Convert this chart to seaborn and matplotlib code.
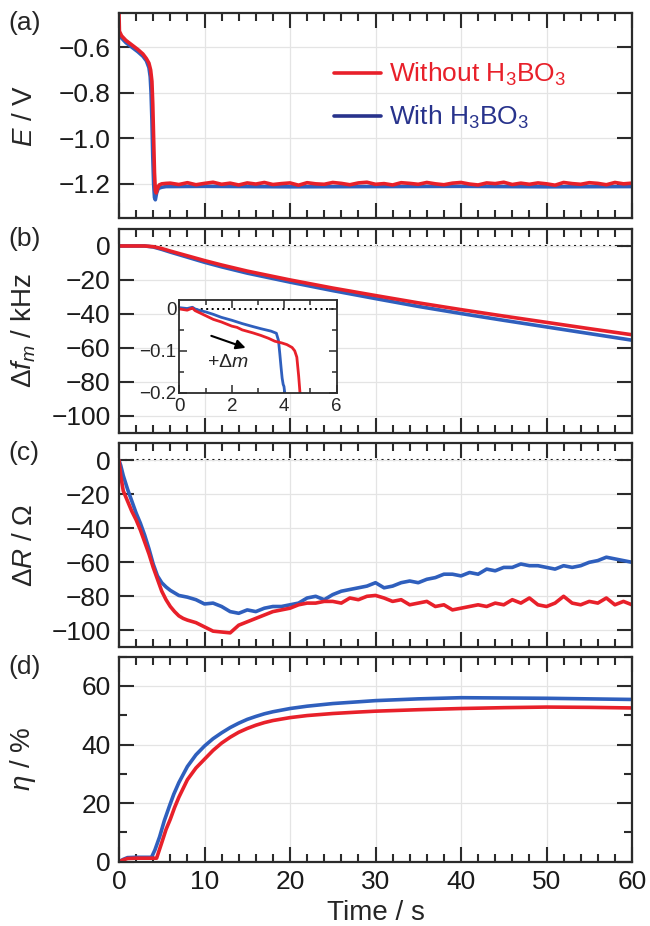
"""
Four stacked time-trace panels (E, delta f_m, delta R, eta) with and without H3BO3.
"""
import matplotlib
matplotlib.use("Agg")
import matplotlib.pyplot as plt
import matplotlib.ticker as mticker
from matplotlib.lines import Line2D
import seaborn as sns

sns.set_theme(style="ticks")
plt.rcParams["font.family"] = ["Liberation Sans", "DejaVu Sans"]
plt.rcParams["mathtext.fontset"] = "custom"
plt.rcParams["mathtext.rm"] = "Liberation Sans"
plt.rcParams["mathtext.it"] = "Liberation Sans:italic"
plt.rcParams["axes.unicode_minus"] = True

RED = "#e8202a"
BLUE = "#2f5fbd"
NAVY = "#28338c"
INK = "#2b2b2b"

# ---------------------------------------------------------------
# (a) potential E / V
# ---------------------------------------------------------------
t_e_red = [0, 0.05, 0.3, 0.8, 1.5, 2.2, 2.8, 3.2, 3.5, 3.7, 3.85, 3.95, 4.05,
           4.15, 4.25, 4.35, 4.5, 4.7, 5.0, 5.5] + list(range(6, 61))
e_red = [-0.45, -0.53, -0.55, -0.57, -0.59, -0.61, -0.63, -0.65, -0.67, -0.70,
         -0.75, -0.85, -1.00, -1.15, -1.23, -1.24, -1.22, -1.205, -1.20, -1.198,
         -1.197, -1.203, -1.195, -1.204, -1.198, -1.193, -1.202, -1.197, -1.205, -1.196,
         -1.201, -1.194, -1.203, -1.199, -1.196, -1.206, -1.195, -1.200, -1.202, -1.194,
         -1.198, -1.204, -1.196, -1.193, -1.202, -1.199, -1.205, -1.195, -1.198, -1.202,
         -1.194, -1.200, -1.204, -1.197, -1.194, -1.201, -1.205, -1.196, -1.199, -1.193,
         -1.203, -1.197, -1.202, -1.196, -1.200, -1.206, -1.194, -1.199, -1.202, -1.195,
         -1.198, -1.204, -1.194, -1.200, -1.197]
t_e_blue = [0, 0.3, 0.8, 1.5, 2.2, 2.8, 3.2, 3.5, 3.65, 3.75, 3.85, 3.95, 4.05,
            4.15, 4.25, 4.4, 4.6, 5.0, 5.5, 10, 20, 30, 40, 50, 60]
e_blue = [-0.54, -0.56, -0.58, -0.60, -0.62, -0.64, -0.66, -0.69, -0.73, -0.80,
          -0.92, -1.08, -1.20, -1.26, -1.27, -1.24, -1.22, -1.215, -1.212,
          -1.211, -1.213, -1.212, -1.211, -1.213, -1.212]

# ---------------------------------------------------------------
# (b) frequency shift delta f_m / kHz (+ inset)
# ---------------------------------------------------------------
t_f = [0, 3, 4, 5, 6, 8, 10, 12, 15, 20, 25, 30, 35, 40, 45, 50, 55, 60]
f_red = [0, 0, -0.4, -1.5, -3.0, -5.8, -8.6, -11.2, -14.8, -20.0, -24.8, -29.2,
         -33.5, -37.5, -41.3, -45.0, -48.7, -52.3]
f_blue = [0, 0, -0.6, -2.0, -3.6, -6.6, -9.6, -12.3, -16.0, -21.3, -26.3, -31.0,
          -35.6, -39.8, -43.8, -47.7, -51.6, -55.5]

t_in_red = [0, 0.3, 0.5, 0.6, 0.8, 1.0, 1.3, 1.6, 2.0, 2.2, 2.4, 2.8, 3.1, 3.4,
            3.64, 3.9, 4.1, 4.3, 4.4, 4.48, 4.55, 4.6]
f_in_red = [0, -0.003, 0.002, -0.004, -0.010, -0.016, -0.025, -0.031, -0.041,
            -0.044, -0.050, -0.057, -0.063, -0.070, -0.077, -0.081, -0.085,
            -0.092, -0.100, -0.115, -0.160, -0.200]
t_in_blue = [0, 0.3, 0.5, 0.6, 0.8, 1.0, 1.3, 1.6, 2.0, 2.4, 2.8, 3.1, 3.3, 3.5,
             3.7, 3.78, 3.83, 3.88, 3.92, 3.96, 3.99, 4.02]
f_in_blue = [0.003, 0.001, 0.004, 0.0, -0.004, -0.007, -0.013, -0.020, -0.027,
             -0.035, -0.042, -0.047, -0.050, -0.053, -0.058, -0.075, -0.106,
             -0.140, -0.165, -0.180, -0.185, -0.200]

# ---------------------------------------------------------------
# (c) resistance delta R / Ohm
# ---------------------------------------------------------------
t_r = [0, 0.2, 0.5, 1, 1.5, 2, 2.5, 3, 3.5, 4, 4.5, 5, 5.5, 6, 6.5, 7, 7.5, 8] \
    + list(range(9, 61))
r_red = [0, -9, -18, -24, -30, -35, -41, -48, -55, -63, -70, -77, -82, -86, -89,
         -91.5, -93, -94, -95.5, -98, -100.5, -101, -101.5, -97, -95, -93, -91, -89,
         -88, -87, -85, -84, -84, -83, -83, -84, -81, -82, -80, -79.5, -81, -83, -82,
         -85, -84, -83, -86, -85, -88, -87, -86, -85, -86, -84, -85, -82, -84, -81,
         -85, -86, -84, -80, -84, -85, -83, -84, -81, -85, -83, -85]
r_blue = [0, -3, -9, -17, -24, -31, -37, -44, -52, -61, -68, -72, -74.5, -76.5,
          -78, -79.5, -80, -80.5, -82, -84.5, -84, -86, -89, -90, -88, -89, -87,
          -86, -86, -85, -84, -81, -80, -82, -79, -77, -76, -75, -74, -72, -75, -74,
          -72, -71, -72, -70, -69, -67, -67, -68, -66, -67, -64, -65, -63, -63, -61,
          -62, -62, -63, -64, -62, -63, -62, -60, -59, -57, -58, -59, -60]

# ---------------------------------------------------------------
# (d) efficiency eta / %
# ---------------------------------------------------------------
t_eta_red = [0, 0.5, 1, 2, 3, 4, 4.4, 5, 5.5, 6, 6.5, 7, 8, 9, 10, 11, 12, 13, 14,
             15, 16, 17, 18, 20, 22, 25, 28, 30, 35, 40, 45, 50, 55, 60]
eta_red = [0, 0.6, 1.1, 1.2, 1.2, 1.2, 1.2, 6.5, 11, 14.5, 18.5, 22, 28, 32, 35,
           38, 40.5, 42.5, 44.2, 45.5, 46.6, 47.5, 48.2, 49.2, 49.9, 50.6, 51.1,
           51.4, 51.9, 52.3, 52.6, 52.8, 52.7, 52.5]
t_eta_blue = [0, 0.5, 1, 2, 3, 3.8, 4.2, 4.75, 5.3, 5.9, 6.4, 7, 8, 9, 10, 11, 12,
              13, 14, 15, 16, 17, 18, 20, 22, 25, 28, 30, 35, 40, 45, 50, 55, 60]
eta_blue = [0, 0.8, 1.4, 1.5, 1.5, 1.5, 4, 8.5, 14, 19, 23, 27, 32.5, 36.5, 39.5,
            42, 44, 45.8, 47.3, 48.6, 49.6, 50.5, 51.2, 52.3, 53.1, 54, 54.6, 55,
            55.6, 56, 55.9, 55.8, 55.6, 55.4]

W, H = 650, 926
fig = plt.figure(figsize=(W / 100, H / 100), dpi=100)


def box(top, bottom, left=119, right=632):
    return [left / W, 1 - bottom / H, (right - left) / W, (bottom - top) / H]


panels = [box(13, 218), box(229, 432.7), box(443.3, 647.3), box(656.7, 861.7)]
axes = [fig.add_axes(p) for p in panels]

LW = 2.6
series = [
    (axes[0], [(t_e_blue, e_blue, BLUE), (t_e_red, e_red, RED)]),
    (axes[1], [(t_f, f_blue, BLUE), (t_f, f_red, RED)]),
    (axes[2], [(t_r, r_blue, BLUE), (t_r, r_red, RED)]),
    (axes[3], [(t_eta_blue, eta_blue, BLUE), (t_eta_red, eta_red, RED)]),
]
for ax, lines in series:
    for x, y, c in lines:
        sns.lineplot(x=x, y=y, color=c, lw=LW, estimator=None, sort=False, ax=ax)

for ax in axes[1:3]:
    ax.axhline(0, color="black", lw=1.5, ls=(0, (1, 1.8)), zorder=0.5)

ylims = [(-1.35, -0.45), (-110, 10), (-110, 10), (0, 70)]
ysteps = [0.2, 20, 20, 20]
ylabels = ["$E$ / V", r"$\Delta f_m$ / kHz", r"$\Delta R$ / $\Omega$", r"$\eta$ / %"]
tags = ["(a)", "(b)", "(c)", "(d)"]
tops = [13, 229, 443.3, 656.7]

for i, ax in enumerate(axes):
    ax.set_xlim(0, 60)
    ax.set_ylim(*ylims[i])
    ax.xaxis.set_major_locator(mticker.MultipleLocator(10))
    ax.xaxis.set_minor_locator(mticker.MultipleLocator(2))
    ax.yaxis.set_major_locator(mticker.MultipleLocator(ysteps[i]))
    if i == 3:
        ax.yaxis.set_minor_locator(mticker.MultipleLocator(10))
    else:
        ax.yaxis.set_minor_locator(mticker.NullLocator())
    ax.grid(True, which="major", color="#e4e4e4", lw=0.9)
    ax.set_axisbelow(True)
    for s in ax.spines.values():
        s.set_linewidth(1.6)
        s.set_color(INK)
    ax.tick_params(which="both", direction="in", top=True, right=True,
                   color=INK, width=1.5, labelsize=19, labelcolor="#1a1a1a", pad=6)
    ax.tick_params(which="major", length=11)
    ax.tick_params(which="minor", length=6)
    ax.set_ylabel(ylabels[i], fontsize=20)
    ax.yaxis.set_label_coords(-0.158, 0.5)
    if i < 3:
        ax.tick_params(labelbottom=False)
        ax.set_xlabel("")
    fig.text(8 / W, 1 - (tops[i] - 2) / H, tags[i], fontsize=19, va="top", ha="left")

axes[3].set_xlabel("Time / s", fontsize=20, labelpad=4)

# legend in (a)
handles = [Line2D([], [], color=RED, lw=LW), Line2D([], [], color=NAVY, lw=LW)]
leg = axes[0].legend(handles, ["Without H$_3$BO$_3$", "With H$_3$BO$_3$"],
                     loc="upper left", bbox_to_anchor=(0.42, 0.765), frameon=False,
                     fontsize=19, handlelength=1.75, handletextpad=0.3,
                     labelspacing=0.6, borderpad=0, borderaxespad=0)
for txt, c in zip(leg.get_texts(), [RED, NAVY]):
    txt.set_color(c)

# inset in (b)
ins = fig.add_axes(box(299.7, 392.8, 179.3, 336.7))
sns.lineplot(x=t_in_blue, y=f_in_blue, color=BLUE, lw=2.0, estimator=None,
             sort=False, ax=ins)
sns.lineplot(x=t_in_red, y=f_in_red, color=RED, lw=2.0, estimator=None,
             sort=False, ax=ins)
ins.axhline(0, color="black", lw=1.4, ls=(0, (1, 1.8)), zorder=0.5)
ins.set_xlim(0, 6)
ins.set_ylim(-0.2, 0.022)
ins.xaxis.set_major_locator(mticker.MultipleLocator(2))
ins.xaxis.set_minor_locator(mticker.MultipleLocator(1))
ins.yaxis.set_major_locator(mticker.MultipleLocator(0.1))
ins.yaxis.set_minor_locator(mticker.MultipleLocator(0.05))
ins.yaxis.set_major_formatter(mticker.FuncFormatter(
    lambda v, p: "0" if abs(v) < 1e-9 else f"{v:.1f}".replace("-", "\u2212")))
for s in ins.spines.values():
    s.set_linewidth(1.3)
    s.set_color(INK)
ins.tick_params(which="both", direction="in", top=True, right=True, color=INK,
                width=1.1, labelsize=13.5, pad=2)
ins.tick_params(axis="x", which="both", pad=4)
ins.tick_params(which="major", length=6)
ins.tick_params(which="minor", length=3.5)
ins.annotate("", xy=(2.63, -0.095), xytext=(1.12, -0.062),
             arrowprops=dict(arrowstyle="-|>", color="black", lw=1.5,
                             mutation_scale=14))
ins.text(1.87, -0.127, "+\u0394$m$", fontsize=14, ha="center", va="center")

fig.savefig("out.png", dpi=100)
